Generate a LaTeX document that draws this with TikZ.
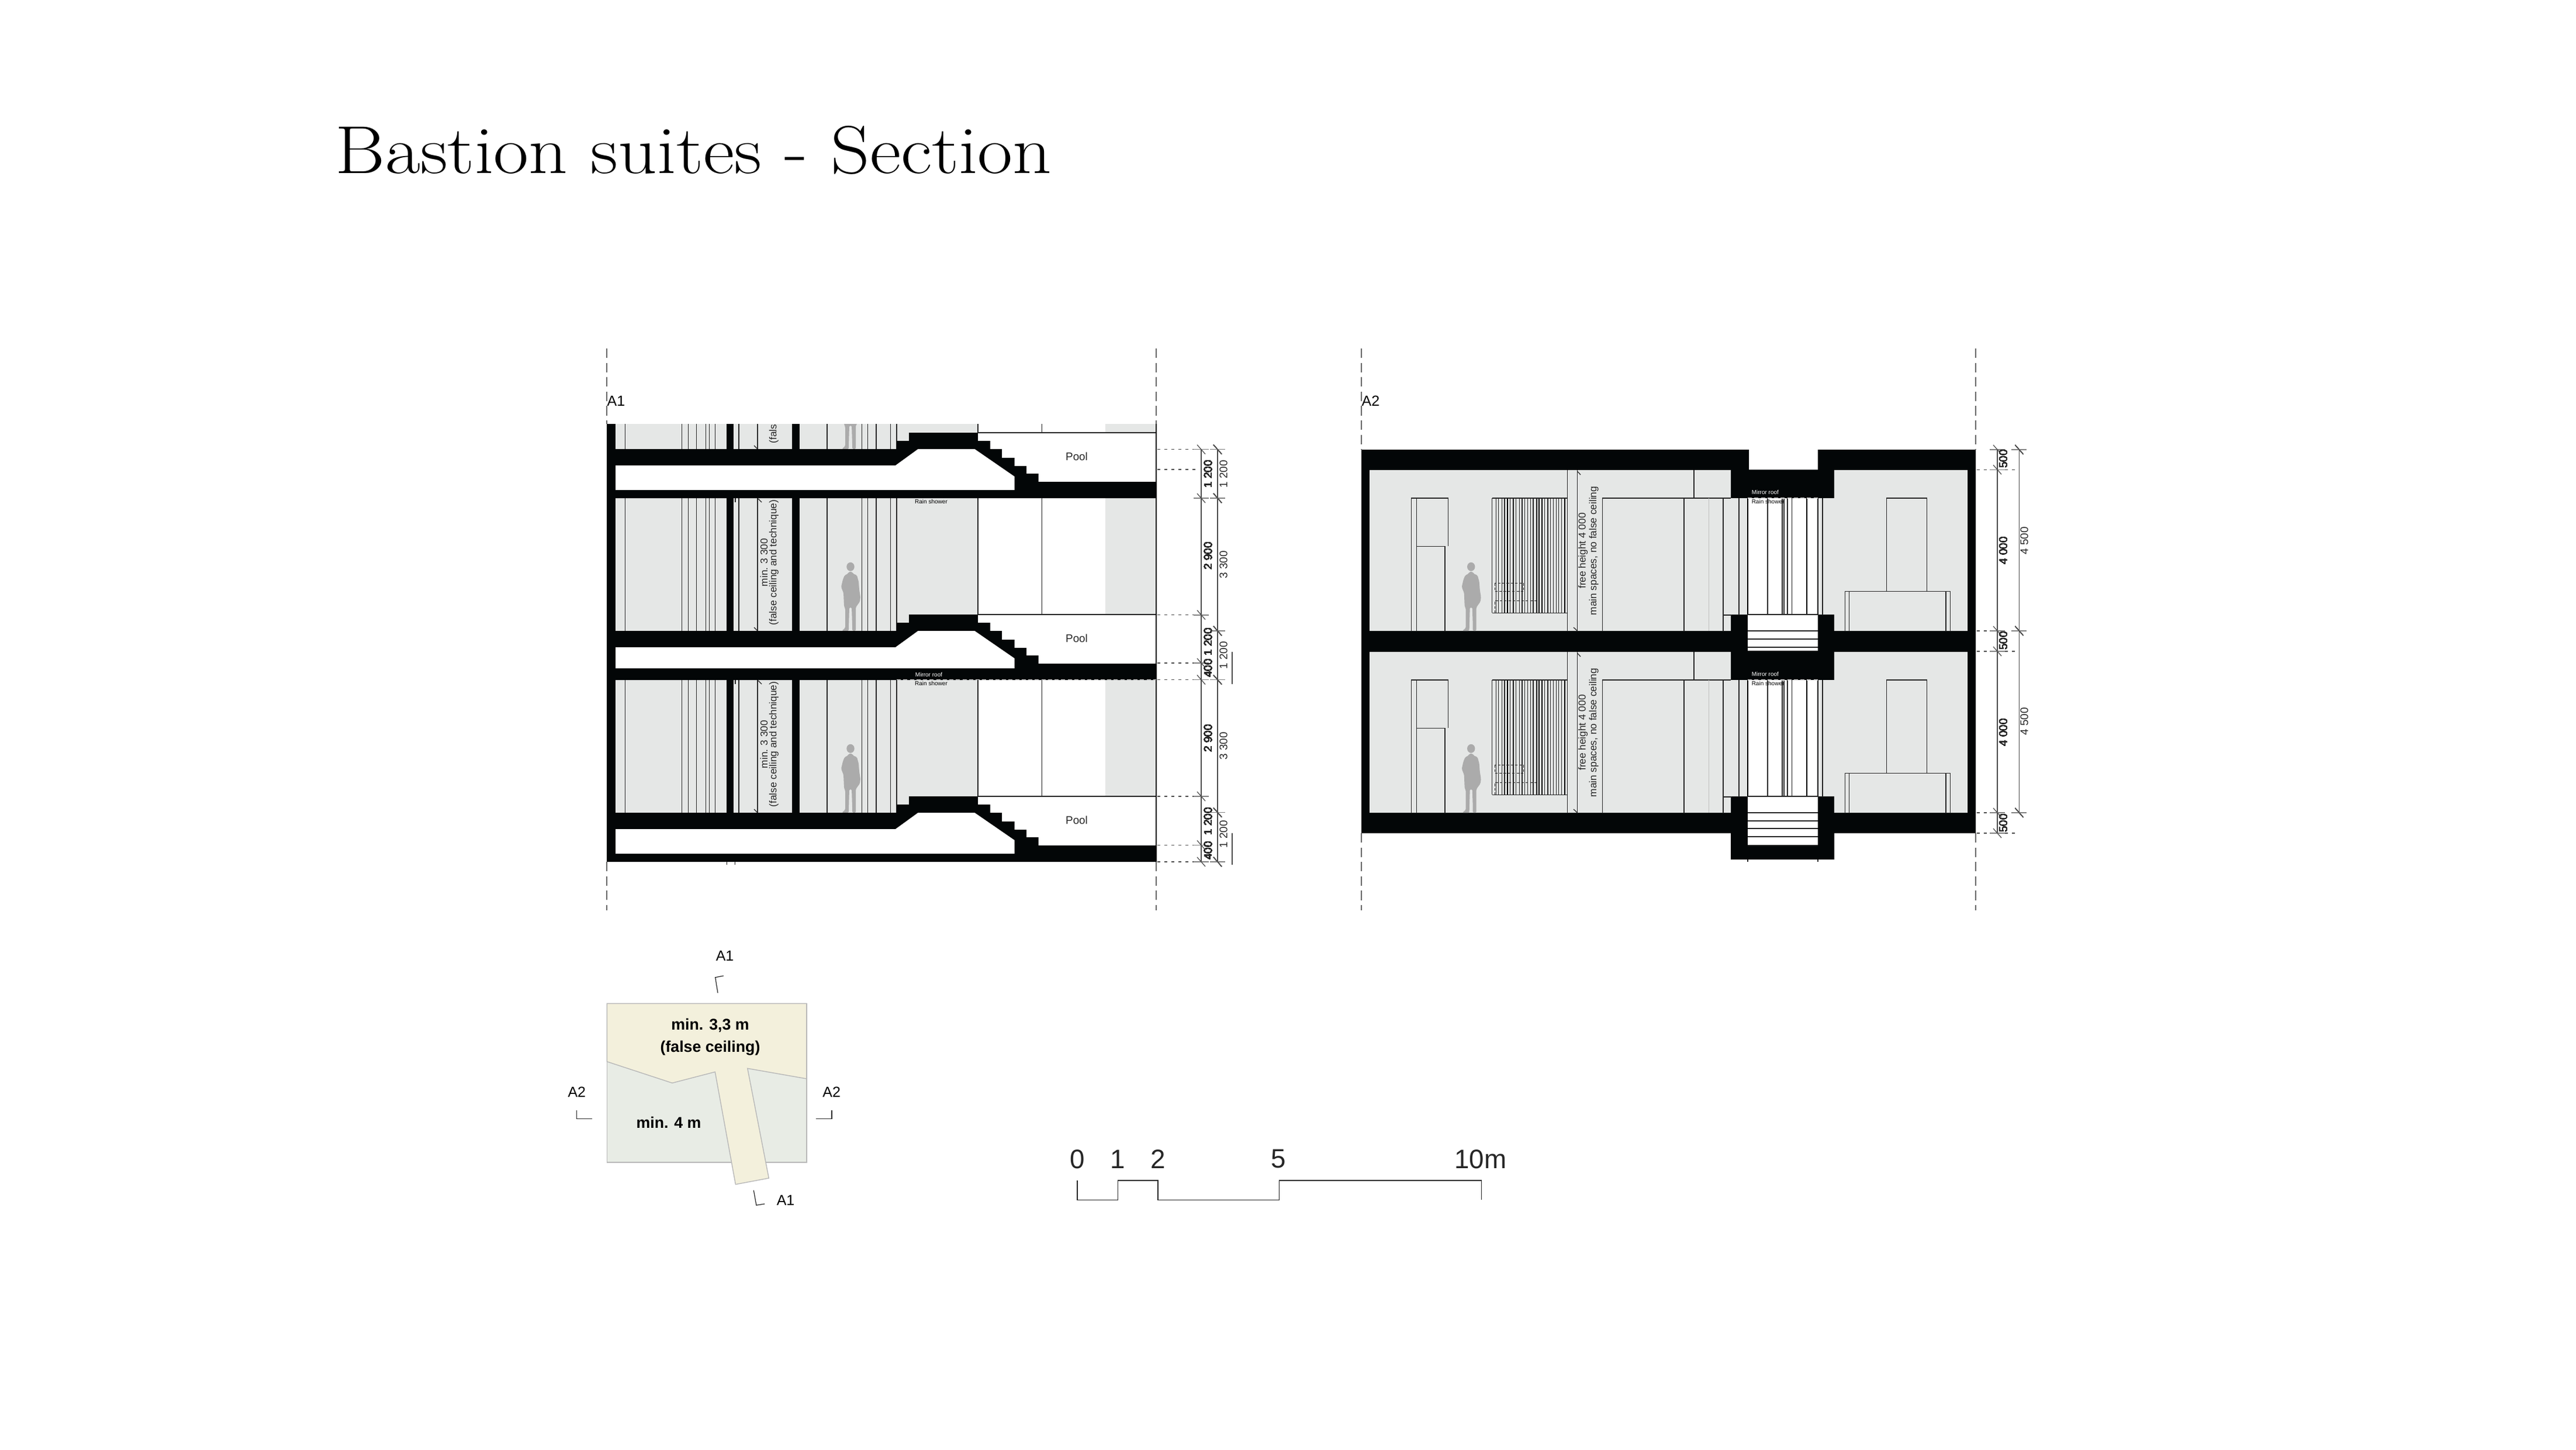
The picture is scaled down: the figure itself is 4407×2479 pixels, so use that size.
\documentclass[tikz,border=0pt]{standalone}
\usepackage{fontspec}
\setsansfont{Liberation Sans}
\usepackage{tikz}

\definecolor{wallblack}{HTML}{030607}
\definecolor{roomgrey}{HTML}{E5E7E6}
\definecolor{persongrey}{HTML}{ABABAB}
\definecolor{keybeige}{HTML}{F3F0DC}
\definecolor{keygreen}{HTML}{E8ECE5}

\tikzset{
  thinline/.style={draw=black!85, line width=0.35pt},
  heavyline/.style={draw=black, line width=0.55pt},
  wallline/.style={draw=black, line width=0.7pt},
  dimline/.style={draw=black!70, line width=0.35pt},
  dimbar/.style={draw=black!50, line width=0.45pt},
  dotline/.style={draw=black!70, line width=0.4pt, dash pattern=on 1.4pt off 2pt},
  cutline/.style={draw=black!60, line width=0.45pt, dash pattern=on 4.6pt off 2.4pt},
  mirrorline/.style={draw=white!85!black, line width=0.4pt, dash pattern=on 2pt off 1.2pt},
  tagtext/.style={inner sep=0pt, font=\sffamily\fontsize{7.1}{8}\selectfont},
  dimtext/.style={inner sep=0pt, rotate=90, text=black!85, font=\sffamily\fontsize{5.35}{6}\selectfont},
  notetext/.style={inner sep=0pt, rotate=90, text=black!85, font=\sffamily\fontsize{4.9}{6}\selectfont},
  tinytext/.style={inner sep=0pt, font=\sffamily\fontsize{2.85}{3}\selectfont},
  keytext/.style={inner sep=0pt, font=\sffamily\bfseries\fontsize{7.6}{9}\selectfont},
  scaletext/.style={inner sep=0pt, text=black!85, font=\sffamily\fontsize{13}{15}\selectfont},
}

\newcommand{\personfig}[2]{
  \fill[persongrey, shift={(#1,#2)}] (0,-109.7) ellipse (6.7 and 7.5);
  \fill[persongrey, shift={(#1,#2)}, rounded corners=0.5pt] (-3,-101) -- (3,-101) -- (4,-98) -- (11,-95) -- (14,-84) -- (15,-70) -- (17,-58) -- (16,-50)
    -- (11,-43) -- (9,-40) -- (9,0) -- (3,0) -- (3,-10) -- (2,-40) -- (-2,-40) -- (-3,-6) -- (-3,0) -- (-15,0) -- (-9,-5) -- (-9,-38)
    -- (-11,-42) -- (-12,-65) -- (-16,-75) -- (-13,-88) -- (-10,-95) -- (-4,-98) -- cycle;
}
\newcommand{\dimtick}[2]{
  \draw[dimbar] (#1-13,#2) -- (#1+13,#2);
  \draw[dimline] (#1-7,#2-8) -- (#1+7,#2+8);
}

\begin{document}
\begin{tikzpicture}[x=0.01cm, y=-0.01cm]
    \fill[white] (0,0) rectangle (4407,2479);
    \useasboundingbox (0,0) rectangle (4407,2479);

    \node[anchor=base west, inner sep=0pt, font=\fontsize{33}{36}\selectfont] (title) at (573,297) {\scalebox{1.125}[1]{Bastion suites - Section}};

    %cut lines
    \draw[cutline] (1038,596) -- (1038,725);
    \draw[cutline] (1978,596) -- (1978,725);
    \draw[cutline] (1038,1474) -- (1038,1557);
    \draw[cutline] (1978,1474) -- (1978,1557);
    \draw[cutline] (2329,596) -- (2329,769);
    \draw[cutline] (3380,596) -- (3380,769);
    \draw[cutline] (2329,1425) -- (2329,1557);
    \draw[cutline] (3380,1425) -- (3380,1557);
    \node[tagtext, anchor=west] (labelaone) at (1038,686) {A1};
    \node[tagtext, anchor=west] (labelatwo) at (2329,686) {A2};

    %section A1 rooms
    \begin{scope}
    \clip (1000,725) rectangle (2000,1500);
    \foreach \p in {740,1051,1362} {
        \begin{scope}[shift={(0,\p)}]
        \fill[roomgrey] (1053,-199) rectangle (1673,28);
        \fill[roomgrey] (1891,-199) rectangle (1978,0);
        \foreach \x in {1069.7,1166.7,1177.3,1191.3,1207.3,1213.3,1223.3,1264,1296,1415,1474.3,1484.7,1499,1523.3,1534}
            \draw[thinline] (\x,-199) -- (\x,28);
        \draw[thinline] (1673,-199) -- (1673,0);
        \draw[thinline] (1782.5,-199) -- (1782.5,0);
        \draw[thinline] (1673,0) -- (1978,0);
        \draw[thinline] (1258,-199) -- (1258,-192);
        \draw[thinline] (1290,22) -- (1296,28);
        \draw[thinline] (1297,-198) -- (1303,-192);
        \fill[wallblack] (1242.7,-199) rectangle (1254.7,28);
        \fill[wallblack] (1355,-199) rectangle (1367.7,28);
        \personfig{1455}{28}
        \node[notetext] (minnote\p) at (1307,-89) {min. 3 300};
        \node[notetext] (falsenote\p) at (1324,-89) {(false ceiling and technique)};
        \node[tinytext] (rain\p) at (1593,-193.4) {Rain shower};
        \end{scope}
    }
    \end{scope}

    %section A1 slabs
    \foreach \p/\c in {740/98,1051/92,1362/98} {
        \begin{scope}[shift={(0,\p)}]
        \fill[wallblack] (1038,28) -- (1534,28) -- (1534,14) -- (1555,14) -- (1555,0) -- (1673,0) -- (1673,14) -- (1694,14) -- (1694,28)
            -- (1714,28) -- (1714,43) -- (1735.6,43) -- (1735.6,57) -- (1756,57) -- (1756,70) -- (1776.7,70) -- (1776.7,84)
            -- (1978,84) -- (1978,112) -- (1038,112) -- cycle;
        \fill[white] (1053,56) -- (1532,56) -- (1570.6,28) -- (1667.4,28) -- (1735.6,75) -- (1735.6,\c) -- (1053,\c) -- cycle;
        \node[dimtext, rotate=-90] (pool\p) at (1842,41) {Pool};
        \end{scope}
    }
    \fill[wallblack] (1038,725) rectangle (1053,1474);
    \draw[wallline] (1978,725) -- (1978,1474);
    \draw[mirrorline] (1534,1162.5) -- (1978,1162.5);
    \node[tinytext, text=white] (mirrorone) at (1589,1153.5) {Mirror roof};
    \draw[thinline] (1243.5,1474) -- (1243.5,1479);
    \draw[thinline] (1257.4,1474) -- (1257.4,1479);

    %dimensions A1
    \draw[dimline] (2055,768.7) -- (2055,1474);
    \draw[dimline] (2083,768.7) -- (2083,1474);
    \draw[dimline] (2108,1115) -- (2108,1170);
    \draw[dimline] (2108,1425) -- (2108,1479);
    \foreach \y in {768.7,1051.7,1134,1162.6,1362,1445.5,1474}
        \draw[dotline] (1980,\y) -- (2050,\y);
    \draw[dotline] (1980,803) -- (2047,803);
    \foreach \y in {768.7,852,1051.7,1134,1162.6,1362,1445.5,1474}
        \dimtick{2055}{\y}
    \foreach \y in {768.7,852,1079,1162.6,1389.6,1474}
        \dimtick{2083}{\y}
    \foreach \y/\t in {811/1 200,951/2 900,1098/1 200,1143/400,1263/2 900,1405/1 200,1455/400}
        \node[dimtext] (dimaone\y) at (2066.5,\y) {\t};
    \foreach \y/\t in {811/1 200,966/3 300,1121/1 200,1276/3 300,1427/1 200}
        \node[dimtext] (dimatwo\y) at (2093,\y) {\t};

    %section A2
    \fill[wallblack] (2329,769) -- (2992,769) -- (2992,803.3) -- (3110,803.3) -- (3110,769) -- (3380,769) -- (3380,1425)
        -- (3138,1425) -- (3138,1470) -- (2961,1470) -- (2961,1425) -- (2329,1425) -- cycle;
    \foreach \p in {0,311} {
        \begin{scope}[shift={(0,\p)}]
        \fill[roomgrey] (2343,804) -- (2961,804) -- (2961,852) -- (3138,852) -- (3138,804) -- (3366,804) -- (3366,1079)
            -- (3138,1079) -- (3138,1051) -- (2961,1051) -- (2961,1079) -- (2343,1079) -- cycle;
        \fill[white] (2990,852) rectangle (3110,1052);
        %wardrobe
        \draw[thinline] (2414.7,1079) -- (2414.7,852) -- (2477.3,852) -- (2477.3,934.3);
        \draw[thinline] (2423.7,852) -- (2423.7,1079);
        \draw[thinline] (2423.7,934.3) -- (2472,934.3) -- (2472,1079);
        %slats
        \foreach \x in {2552.7,2559.3,2563.7,2569.3,2574,2583.3,2593.7,2599.3,2604,2608.7,2613.3,2618.3,2623,2642.7,2648,2652.3,2657.3,2662.3,2666.7,2671.7}
            \draw[thinline] (\x,852) -- (\x,1048.3);
        \foreach \x in {2579.3,2589,2629,2632.7,2638,2676.7}
            \draw[heavyline] (\x,852) -- (\x,1048.3);
        \draw[thinline] (2552.7,852) -- (2681.7,852);
        \draw[thinline] (2552.7,1048.3) -- (2681.7,1048.3);
        \draw[thinline, dash pattern=on 1.2pt off 0.9pt] (2557.3,997.3) rectangle (2606.7,1011.7);
        \draw[thinline, dash pattern=on 1.2pt off 0.9pt] (2557.3,1048.3) -- (2557.3,1027.3) -- (2628.3,1027.3);
        \draw[thinline] (2681.7,804) -- (2681.7,1079);
        \draw[thinline] (2698.3,804) -- (2698.3,1079);
        \draw[thinline] (2698.3,806) -- (2704,812);
        \draw[thinline] (2692,1073) -- (2698.3,1079);
        %door
        \draw[thinline] (2741.3,1079) -- (2741.3,852) -- (2881,852) -- (2881,1079);
        \draw[thinline] (2898,804) -- (2898,852) -- (2961,852);
        \draw[thinline] (2881,852) -- (2961,852);
        \draw[thinline, draw=black!25] (2923.4,852) -- (2923.4,1079);
        \draw[thinline] (2948,852) -- (2948,1079);
        \draw[thinline] (2948,1052) -- (2961,1052);
        \draw[thinline] (2975,852) -- (2975,1051);
        \draw[heavyline] (2990,852) -- (2990,1051);
        %shaft
        \foreach \x in {3024,3049,3052,3058,3065.6}
            \draw[thinline] (\x,852) -- (\x,1051);
        \draw[heavyline] (3091,852) -- (3091,1051);
        \draw[heavyline] (3110,852) -- (3110,1051);
        \draw[thinline] (3118,852) -- (3118,1051);
        \draw[thinline] (2990,1051) -- (3110,1051);
        %right bay
        \draw[thinline] (3227.4,1011.3) -- (3227.4,852) -- (3296.8,852) -- (3296.8,1011.3);
        \draw[thinline] (3156.5,1079) -- (3156.5,1011.3) -- (3336.5,1011.3) -- (3336.5,1079);
        \draw[thinline] (3163.5,1011.3) -- (3163.5,1079);
        \draw[thinline] (3329,1011.3) -- (3329,1079);
        \personfig{2516.7}{1079}
        \draw[mirrorline] (2990,852) -- (3110,852);
        \node[tinytext, text=white, anchor=west] (mirror\p) at (2996,842.4) {Mirror roof};
        \node[tinytext, anchor=west] (shower\p) at (2996,857.5) {Rain shower};
        \node[notetext] (freenote\p) at (2708,942) {free height 4 000};
        \node[notetext] (mainnote\p) at (2726.7,942) {main spaces, no false ceiling};
        \end{scope}
    }
    %floor openings
    \fill[white] (2990,1052) rectangle (3110,1112.6);
    \fill[white] (2990,1363) rectangle (3110,1446);
    \foreach \y in {1079,1093,1107}
        \draw[thinline] (2990,\y) -- (3110,\y);
    \foreach \y in {1390,1404,1417,1431,1446}
        \draw[thinline] (2990,\y) -- (3110,\y);
    \draw[thinline] (2990,1470) -- (2990,1474);
    \draw[thinline] (3110,1470) -- (3110,1474);

    %dimensions A2
    \draw[dimline] (3417,769) -- (3417,1425);
    \draw[dimline] (3454.4,769) -- (3454.4,1390);
    \foreach \y in {803.3,1114,1425}
        \draw[dotline] (3382,\y) -- (3452,\y);
    \foreach \y in {1079,1390}
        \draw[dotline] (3382,\y) -- (3412,\y);
    \foreach \y in {769,803.3,1079,1114,1390,1425}
        \dimtick{3417}{\y}
    \foreach \y in {769,1079,1390}
        \dimtick{3454.4}{\y}
    \foreach \y/\t in {785/500,942/4 000,1096/500,1253/4 000,1408/500}
        \node[dimtext] (dimbone\y) at (3427,\y) {\t};
    \foreach \y in {925,1234}
        \node[dimtext] (dimbtwo\y) at (3463,\y) {4 500};

    %key plan
    \fill[keygreen] (1038.4,1716.3) rectangle (1379.8,1988);
    \draw[draw=black!28, line width=0.4pt] (1038.4,1716.3) rectangle (1379.8,1988);
    \filldraw[fill=keybeige, draw=black!28, line width=0.4pt] (1038.4,1716.3) -- (1379.8,1716.3) -- (1379.8,1845) -- (1278.8,1827.3) -- (1315.3,2015)
        -- (1258.4,2025.7) -- (1223.3,1833.3) -- (1150,1852.3) -- (1038.4,1815.7) -- cycle;
    \node[keytext] (keyupper) at (1215,1754) {min. 3,3 m};
    \node[keytext] (keyfalse) at (1215,1792.7) {(false ceiling)};
    \node[keytext] (keylower) at (1144,1919.3) {min. 4 m};
    \draw[thinline] (1237.7,1669) -- (1223.7,1671.7) -- (1228,1698.3);
    \draw[thinline] (986.5,1899.3) -- (986.5,1913.7) -- (1013,1913.7);
    \draw[thinline] (1423,1899.3) -- (1423,1913.7) -- (1396.3,1913.7);
    \draw[thinline] (1289.3,2035.7) -- (1293.9,2061.3) -- (1308.2,2059);
    \node[tagtext] (keyaone) at (1240,1635) {A1};
    \node[tagtext] (keyatwo) at (986.8,1867.7) {A2};
    \node[tagtext] (keybtwo) at (1422.6,1867.7) {A2};
    \node[tagtext] (keybone) at (1344,2053) {A1};

    %scale bar
    \draw[thinline] (1843,2019) -- (1843,2052.3) -- (1912.3,2052.3) -- (1912.3,2019) -- (1981,2019) -- (1981,2052.3) -- (2188.4,2052.3)
        -- (2188.4,2019) -- (2534.3,2019) -- (2534.3,2052.3);
    \node[scaletext] (scalezero) at (1843,1982.3) {0};
    \node[scaletext] (scaleone) at (1912,1982.3) {1};
    \node[scaletext] (scaletwo) at (1981,1982.3) {2};
    \node[scaletext] (scalefive) at (2187,1982.3) {5};
    \node[scaletext] (scaleten) at (2532.7,1982.3) {10m};
\end{tikzpicture}
\end{document}
